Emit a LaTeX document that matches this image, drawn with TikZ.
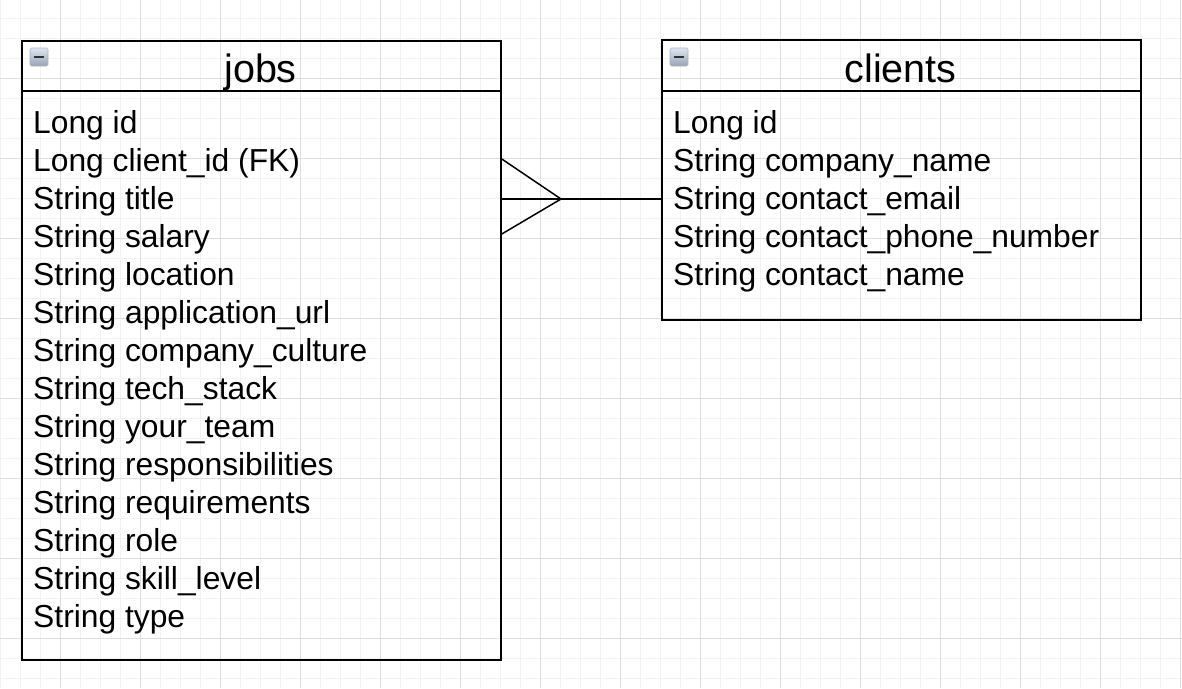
\documentclass[tikz,border=0pt]{standalone}
\usepackage{fontspec}
\setmainfont{Liberation Sans}
\definecolor{icontop}{RGB}{222,230,240}
\definecolor{iconbot}{RGB}{150,165,185}
\begin{document}
\begin{tikzpicture}[x=1pt,y=-1pt,
  entity/.style={draw=black,line width=1.8pt,rectangle,inner sep=0pt,anchor=north west},
  title/.style={font=\fontsize{39.5}{44}\selectfont,anchor=base,inner sep=0pt},
  attr/.style={font=\fontsize{31.8}{38}\selectfont,anchor=base west,inner sep=0pt},
  icon/.style={rounded corners=1.5pt,draw=gray!60,line width=0.6pt,top color=icontop,bottom color=iconbot},
  rel/.style={line width=1.5pt,black}]
\useasboundingbox (0,0) rectangle (1182,688);
% grid
\foreach \x in {0,20,...,1180} \draw[line width=1pt,black!5] (\x,0) -- (\x,688);
\foreach \y in {-2,18,...,688} \draw[line width=1pt,black!5] (0,\y) -- (1182,\y);
\foreach \x in {60,140,...,1180} \draw[line width=1pt,black!13] (\x,0) -- (\x,688);
\foreach \y in {78,158,...,688} \draw[line width=1pt,black!13] (0,\y) -- (1182,\y);
% jobs entity
\node[entity,minimum width=479pt,minimum height=619pt] (jobs) at (21,40) {};
\draw[line width=1.8pt] (21,91) coordinate (jh1) -- (500,91) coordinate (jh2);
\node[title] (jobst) at (260.5,82) {jobs};
\path[icon] (30,48) rectangle (48,66);
\draw[line width=2.4pt,black!80] (34,57) -- (44,57);
\foreach \t [count=\i] in {Long id,Long client\_id (FK),String title,String salary,String location,String application\_url,String company\_culture,String tech\_stack,String your\_team,String responsibilities,String requirements,String role,String skill\_level,String type}
  \node[attr] (j\i) at (33,{133+38*(\i-1)}) {\t};
% clients entity
\node[entity,minimum width=479pt,minimum height=280pt] (clients) at (661,39) {};
\draw[line width=1.8pt] (661,91) coordinate (ch1) -- (1140,91) coordinate (ch2);
\node[title] (clientst) at (900.5,82) {clients};
\path[icon] (670,48) rectangle (688,66);
\draw[line width=2.4pt,black!80] (674,57) -- (684,57);
\foreach \t [count=\i] in {Long id,String company\_name,String contact\_email,String contact\_phone\_number,String contact\_name}
  \node[attr] (c\i) at (673,{133+38*(\i-1)}) {\t};
% relationship (crow's foot)
\coordinate (rj) at (jobs.north east |- 0,199);
\coordinate (rc) at (clients.north west |- 0,199);
\coordinate (tip) at (561,199);
\coordinate (up) at (jobs.north east |- 0,159);
\coordinate (dn) at (jobs.north east |- 0,234);
\draw[rel] (rj) -- (rc);
\draw[rel] (up) -- (tip) -- (dn);
\end{tikzpicture}
\end{document}
